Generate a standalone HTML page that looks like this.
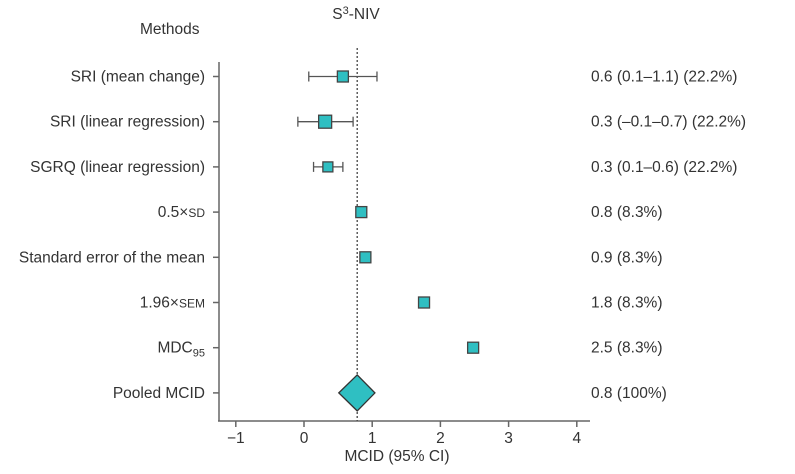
<!DOCTYPE html>
<html><head><meta charset="utf-8"><style>
body{margin:0;background:#fff;}
svg text{font-family:"Liberation Sans",sans-serif;fill:#333;font-size:15.5px;}
</style></head><body>
<svg width="795" height="469" viewBox="0 0 795 469">
<text x="356" y="19" text-anchor="middle">S<tspan font-size="11" dy="-5">3</tspan><tspan dy="5">-NIV</tspan></text>
<text x="140" y="34">Methods</text>
<g id="axes"></g>
<g id="marks"></g>
<text x="397" y="461" text-anchor="middle">MCID (95% CI)</text>
</svg>
<script>
const labels=["SRI (mean change)","SRI (linear regression)","SGRQ (linear regression)","0.5×SD","Standard error of the mean","1.96×SEM","MDC95","Pooled MCID"];
const estimates=[0.57,0.31,0.35,0.84,0.9,1.76,2.48,0.78];
const ciLow=[0.07,-0.09,0.14,null,null,null,null,0.51];
const ciHigh=[1.07,0.72,0.57,null,null,null,null,1.04];
const weights=[22.2,22.2,22.2,8.3,8.3,8.3,8.3,100];
const valueText=["0.6 (0.1–1.1) (22.2%)","0.3 (–0.1–0.7) (22.2%)","0.3 (0.1–0.6) (22.2%)","0.8 (8.3%)","0.9 (8.3%)","1.8 (8.3%)","2.5 (8.3%)","0.8 (100%)"];
const xTicks=[-1,0,1,2,3,4];
const pooled=0.78;
const NS="http://www.w3.org/2000/svg";
const x=v=>304+v*68.2;
const y=i=>76.5+i*45.2;
function mk(tag,attrs,parent){const e=document.createElementNS(NS,tag);for(const k in attrs)e.setAttribute(k,attrs[k]);parent.appendChild(e);return e;}
const ax=document.getElementById('axes'),mg=document.getElementById('marks');
let e=mk('line',{x1:219,y1:62,x2:219,y2:421,stroke:'#666','stroke-width':1.5},ax);

e=mk('line',{x1:218,y1:421,x2:590,y2:421,stroke:'#666','stroke-width':1.5},ax);

xTicks.forEach(t=>{
  let l=mk('line',{x1:x(t),y1:421,x2:x(t),y2:427,stroke:'#666','stroke-width':1.5},ax);
  
  let tx=mk('text',{x:x(t),y:443,'text-anchor':'middle'},ax);tx.textContent=t<0?'−'+(-t):t;
  
});
e=mk('line',{x1:x(pooled),y1:48,x2:x(pooled),y2:421,stroke:'#444','stroke-width':1.3,'stroke-dasharray':'2,2'},ax);

labels.forEach((lab,i)=>{
  const cy=y(i);
  let tk=mk('line',{x1:213,y1:cy,x2:219,y2:cy,stroke:'#666','stroke-width':1.5},ax);
  
  let t=mk('text',{x:205,y:cy+5,'text-anchor':'end'},ax);
  if(lab==="MDC95"){t.innerHTML='MDC<tspan font-size="11" dy="4">95</tspan>';}
  else if(lab.includes('×')){const p=lab.split('×');t.innerHTML=p[0]+'×<tspan font-size="12">'+p[1]+'</tspan>';}
  else t.textContent=lab;
  
  let v=mk('text',{x:591,y:cy+5},ax);v.textContent=valueText[i];
  
  if(ciLow[i]!==null&&i<7){
    let g=mk('g',{stroke:'#555','stroke-width':1.3},mg);
    mk('line',{x1:x(ciLow[i]),y1:cy,x2:x(ciHigh[i]),y2:cy},g);
    mk('line',{x1:x(ciLow[i]),y1:cy-5,x2:x(ciLow[i]),y2:cy+5},g);
    mk('line',{x1:x(ciHigh[i]),y1:cy-5,x2:x(ciHigh[i]),y2:cy+5},g);
    
  }
  if(i===7){
    const cx=x(estimates[i]),l=x(ciLow[i]),r=x(ciHigh[i]);
    let d=mk('polygon',{points:`${l},${cy} ${cx},${cy-18} ${r},${cy} ${cx},${cy+18}`,fill:'#2fbfc2',stroke:'#333','stroke-width':1.3},mg);
    
  } else {
    const s=weights[i]>20?(i===1?13:(i===2?10:11)):11;
    let r=mk('rect',{x:x(estimates[i])-s/2,y:cy-s/2,width:s,height:s,fill:'#2fbfc2',stroke:'#444','stroke-width':1.3},mg);
    
  }
});
</script>
</body></html>
